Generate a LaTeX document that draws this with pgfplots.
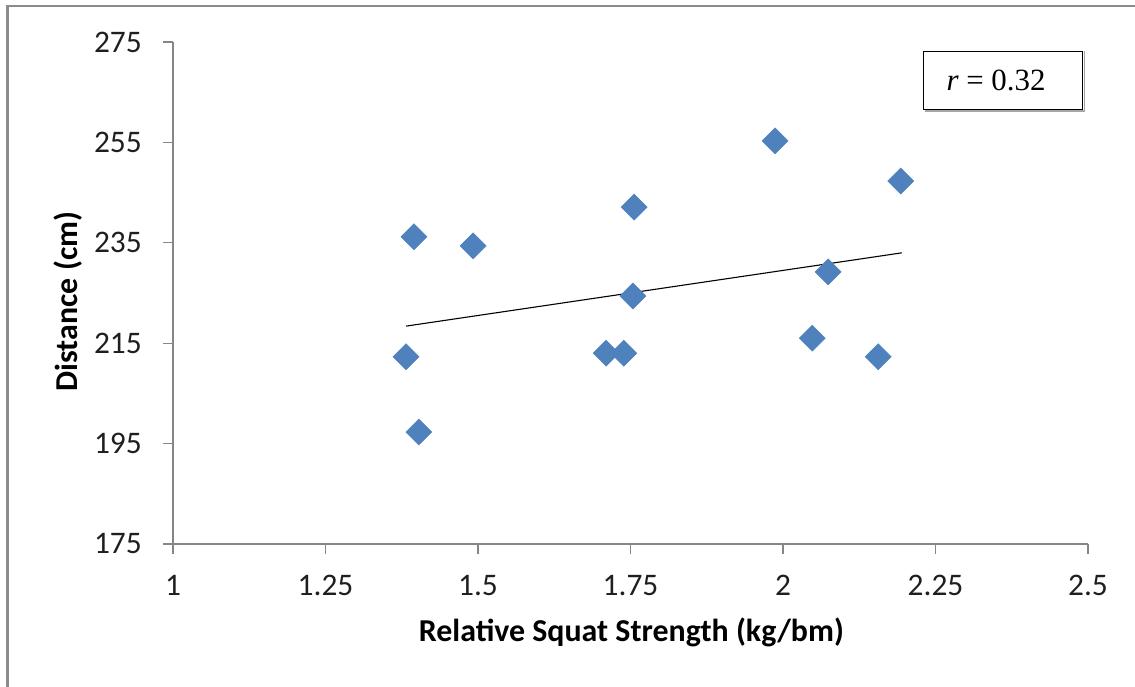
\documentclass[border=0pt]{standalone}
\usepackage{pgfplots}
\pgfplotsset{compat=1.18}
\usepackage{fontspec}
\setmainfont{Carlito}
\newfontfamily\timesfont{Liberation Serif}
\definecolor{axgray}{HTML}{868686}
\definecolor{markblue}{HTML}{4F81BD}
\definecolor{framegray}{HTML}{8C8C8C}
\begin{document}
\begin{tikzpicture}[x=1bp,y=1bp]
\path[use as bounding box] (0,0) rectangle (1135,687);
\draw[framegray, line width=2.5bp] (7.5,0) -- (7.5,681) -- (1135,681);
\begin{axis}[
  at={(173bp,143bp)}, anchor=south west,
  scale only axis, width=915bp, height=502bp,
  xmin=1, xmax=2.5, ymin=175, ymax=275,
  axis x line*=bottom, axis y line*=left,
  axis line style={axgray, line width=1.3bp, -},
  xtick={1,1.25,1.5,1.75,2,2.25,2.5},
  ytick={175,195,215,235,255,275},
  xticklabels={1,1.25,1.5,1.75,2,2.25,2.5},
  yticklabels={175,195,215,235,255,275},
  tick align=outside, major tick length=10bp,
  tick style={axgray, line width=1.3bp},
  ticklabel style={font=\fontsize{31.5}{36}\selectfont, text=black!88},
  xticklabel style={anchor=north, inner sep=0pt, yshift=-21bp},
  yticklabel style={anchor=east, inner sep=0pt, xshift=-21bp},
  xlabel={Relative Squat Strength (kg/bm)},
  ylabel={Distance (cm)},
  xlabel style={font=\fontsize{32}{36}\selectfont\bfseries, at={(rel axis cs:0.501,-0.177)}, anchor=center},
  ylabel style={font=\fontsize{32}{36}\selectfont\bfseries, at={(rel axis cs:-0.1148,0.483)}, anchor=center, rotate=0},
  clip=false,
]
\addplot[black, line width=1.1bp, forget plot] coordinates {(1.382,218.4) (2.195,233.0)};
\addplot[only marks, mark=square*, mark size=9.2bp,
  mark options={rotate=45, fill=markblue, draw=markblue, line width=0.5bp}]
  coordinates {
  (1.382,212.3) (1.395,236.2) (1.403,197.3) (1.492,234.4)
  (1.710,213.0) (1.739,213.0) (1.754,224.4) (1.756,242.1)
  (1.987,255.3) (2.048,216.0) (2.074,229.2) (2.156,212.3)
  (2.193,247.3)
  };
\end{axis}
\draw[gray!70, line width=1.5bp] (924.5,576) -- (1084.5,576) -- (1084.5,635.5);
\node[draw=black, line width=1.5bp, minimum width=159bp, minimum height=58bp, inner sep=0pt, font=\timesfont\fontsize{31}{36}\selectfont] at (1003,606.5) {\textit{r} = 0.32\kern14bp\relax};
\end{tikzpicture}
\end{document}
